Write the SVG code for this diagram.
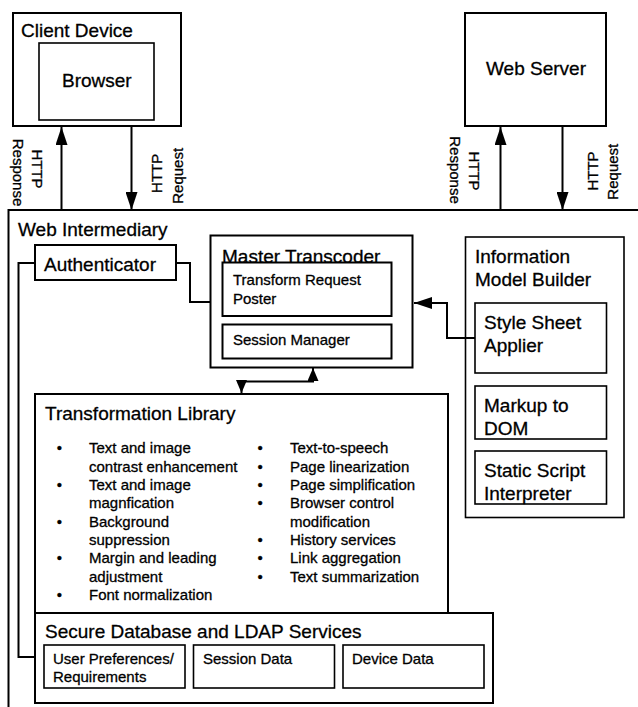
<svg xmlns="http://www.w3.org/2000/svg" width="638" height="707" viewBox="0 0 638 707">
<defs>
<style>
text{font-family:"Liberation Sans",Arial,sans-serif;fill:#000;stroke:#000;stroke-width:0.3}
.t{font-size:19px}
.s{font-size:15px}
.h{font-size:15px;text-anchor:middle}
.box{fill:#fff;stroke:#000;stroke-width:2}
.ibox{fill:#fff;stroke:#000;stroke-width:1.6}
.ln{fill:none;stroke:#000;stroke-width:2}
</style>
<marker id="arr" viewBox="0 0 18 12" markerWidth="18" markerHeight="12" refX="18" refY="6" orient="auto-start-reverse" markerUnits="userSpaceOnUse">
<path d="M0,0 L18,6 L0,12 z" fill="#000"/>
</marker>
<marker id="arrs" viewBox="0 0 13 11" markerWidth="13" markerHeight="11" refX="13" refY="5.5" orient="auto-start-reverse" markerUnits="userSpaceOnUse">
<path d="M0,0 L13,5.5 L0,11 z" fill="#000"/>
</marker>
</defs>
<rect width="638" height="707" fill="#fff"/>

<g id="client-device">
<rect class="box" x="13" y="13" width="168" height="113"/>
<text class="t" x="21" y="37">Client Device</text>
</g>
<g id="browser">
<rect class="ibox" x="39" y="43" width="115" height="77"/>
<text class="t" x="62" y="87">Browser</text>
</g>
<g id="web-server">
<rect class="box" x="465" y="13" width="141" height="113"/>
<text class="t" x="486" y="75">Web Server</text>
</g>

<g id="web-intermediary">
<path class="ln" d="M8.5,707 L8.5,210 L638,210"/>
<text class="t" x="18" y="236">Web Intermediary</text>
</g>

<g id="authenticator">
<rect class="box" x="35" y="245" width="141" height="35"/>
<text class="t" x="44" y="271">Authenticator</text>
</g>

<g id="master-transcoder">
<rect class="box" x="210.5" y="235.5" width="202" height="132"/>
<text class="t" x="222" y="263">Master Transcoder</text>
</g>
<g id="transform-request-poster">
<rect class="box" x="222.5" y="262.5" width="169" height="53.5"/>
<text class="s" x="233" y="285">Transform Request</text>
<text class="s" x="233" y="303.5">Poster</text>
</g>
<g id="session-manager">
<rect class="box" x="222.5" y="324.5" width="169" height="34"/>
<text class="s" x="233" y="345">Session Manager</text>
</g>

<g id="information-model-builder">
<rect class="ibox" x="465.5" y="237" width="158.5" height="280.5"/>
<text class="t" x="475" y="263">Information</text>
<text class="t" x="475" y="286">Model Builder</text>
</g>
<g id="style-sheet-applier">
<rect class="ibox" x="475" y="303" width="131.5" height="70"/>
<text class="t" x="484" y="328.5">Style Sheet</text>
<text class="t" x="484" y="352">Applier</text>
</g>
<g id="markup-to-dom">
<rect class="ibox" x="475" y="386" width="131.5" height="53"/>
<text class="t" x="484" y="412">Markup to</text>
<text class="t" x="484" y="435">DOM</text>
</g>
<g id="static-script-interpreter">
<rect class="ibox" x="475" y="451" width="131.5" height="53"/>
<text class="t" x="484" y="477">Static Script</text>
<text class="t" x="484" y="500">Interpreter</text>
</g>

<g id="transformation-library">
<rect class="box" x="35" y="394" width="413" height="219"/>
<text class="t" x="45" y="419.5">Transformation Library</text>
<text class="s" x="56.7" y="453.3">•</text>
<text class="s" x="89" y="453.3">Text and image</text>
<text class="s" x="89" y="471.7">contrast enhancement</text>
<text class="s" x="56.7" y="490">•</text>
<text class="s" x="89" y="490">Text and image</text>
<text class="s" x="89" y="508.3">magnfication</text>
<text class="s" x="56.7" y="526.7">•</text>
<text class="s" x="89" y="526.7">Background</text>
<text class="s" x="89" y="545">suppression</text>
<text class="s" x="56.7" y="563.3">•</text>
<text class="s" x="89" y="563.3">Margin and leading</text>
<text class="s" x="89" y="581.7">adjustment</text>
<text class="s" x="56.7" y="600">•</text>
<text class="s" x="89" y="600">Font normalization</text>
<text class="s" x="257.4" y="453.3">•</text>
<text class="s" x="290" y="453.3">Text-to-speech</text>
<text class="s" x="257.4" y="471.7">•</text>
<text class="s" x="290" y="471.7">Page linearization</text>
<text class="s" x="257.4" y="490">•</text>
<text class="s" x="290" y="490">Page simplification</text>
<text class="s" x="257.4" y="508.3">•</text>
<text class="s" x="290" y="508.3">Browser control</text>
<text class="s" x="290" y="526.7">modification</text>
<text class="s" x="257.4" y="545">•</text>
<text class="s" x="290" y="545">History services</text>
<text class="s" x="257.4" y="563.3">•</text>
<text class="s" x="290" y="563.3">Link aggregation</text>
<text class="s" x="257.4" y="581.7">•</text>
<text class="s" x="290" y="581.7">Text summarization</text>
</g>

<g id="secure-database">
<rect class="box" x="35" y="613" width="458" height="90"/>
<text class="t" x="45" y="637.5">Secure Database and LDAP Services</text>
</g>
<g id="user-preferences">
<rect class="ibox" x="44" y="645" width="141" height="43"/>
<text class="s" x="53" y="663.5">User Preferences/</text>
<text class="s" x="53" y="682">Requirements</text>
</g>
<g id="session-data">
<rect class="ibox" x="193.5" y="645" width="141" height="43"/>
<text class="s" x="203" y="663.5">Session Data</text>
</g>
<g id="device-data">
<rect class="ibox" x="343" y="645" width="141" height="43"/>
<text class="s" x="352" y="663.5">Device Data</text>
</g>

<g id="connectors">
<line class="ln" x1="61.5" y1="210" x2="61.5" y2="127" marker-end="url(#arr)"/>
<line class="ln" x1="131.5" y1="127" x2="131.5" y2="210" marker-end="url(#arr)"/>
<line class="ln" x1="500.5" y1="210" x2="500.5" y2="127" marker-end="url(#arr)"/>
<line class="ln" x1="562.5" y1="127" x2="562.5" y2="210" marker-end="url(#arr)"/>
<path class="ln" d="M241.5,393 L241.5,381.5 L313,381.5 L313,368" marker-start="url(#arrs)" marker-end="url(#arrs)"/>
<path class="ln" d="M475,338 L447,338 L447,303 L414,303" marker-end="url(#arr)"/>
<path class="ln" d="M35,263 L18.5,263 L18.5,657 L35,657"/>
<path class="ln" d="M176,263 L190,263 L190,302 L210.5,302"/>
<g id="http-labels">
<text class="h" transform="translate(13,172.5) rotate(90)">Response</text>
<text class="h" transform="translate(31.7,169) rotate(90)">HTTP</text>
<text class="h" transform="translate(162,173.3) rotate(-90)">HTTP</text>
<text class="h" transform="translate(182.5,175.8) rotate(-90)">Request</text>
<text class="h" transform="translate(450,170) rotate(90)">Response</text>
<text class="h" transform="translate(469.3,171) rotate(90)">HTTP</text>
<text class="h" transform="translate(598.3,171) rotate(-90)">HTTP</text>
<text class="h" transform="translate(618,171.7) rotate(-90)">Request</text>
</g>
</g>
</svg>
